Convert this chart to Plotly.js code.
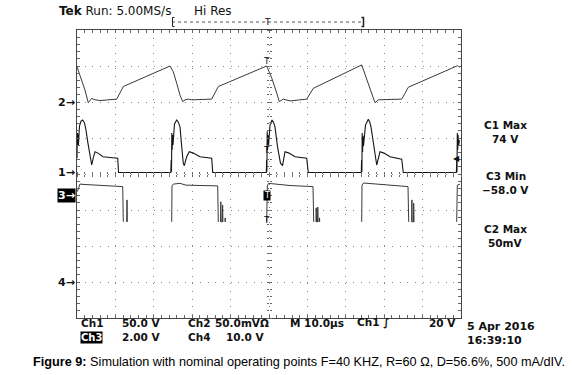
<!DOCTYPE html>
<html><head><meta charset="utf-8">
<script src="https://cdn.plot.ly/plotly-3.0.1.min.js"></script>
<style>html,body{margin:0;padding:0;background:#fff;}#chart{width:572px;height:375px;}</style>
</head><body><div id="chart"></div>
<script>
// time in microseconds (10 us/div), amplitude in screen divisions
const ch1Time = [0,0.08,0.16,0.26,0.36,0.65,1.04,1.48,1.95,2.34,2.86,3.39,3.83,4.17,4.69,5.47,6.77,8.59,10.6,10.81,16.41,24.43,
  24.53,24.61,24.69,24.79,24.9,25.0,25.39,25.96,26.38,26.82,27.27,27.68,27.94,28.57,29.24,30.29,32.03,35.08,35.34,42.45,49.3,
  49.38,49.45,49.53,49.64,49.74,49.87,50.26,50.78,51.17,51.56,52.21,52.99,53.52,54.17,55.21,56.77,59.82,60.23,67.19,74.04,
  74.11,74.19,74.27,74.38,74.48,74.61,75.13,75.86,76.25,76.56,77.34,77.86,78.05,78.91,79.95,81.51,84.56,84.97,91.93,98.8,
  98.88,98.96,99.04,99.14,99.24,99.38,99.6];
const ch1Div = [0.44,1.14,0.61,1.08,0.78,1.33,1.47,1.50,1.42,1.22,0.85,0.44,0.25,0.42,0.62,0.58,0.48,0.46,0.44,0.04,0.04,0.04,
  0.39,0.06,1.14,0.67,1.08,0.81,1.39,1.50,1.44,1.31,0.76,0.30,0.23,0.48,0.62,0.58,0.48,0.44,0.04,0.04,0.04,
  0.39,0.06,1.19,0.67,1.08,0.78,1.36,1.50,1.44,1.31,0.76,0.30,0.23,0.62,0.58,0.48,0.44,0.04,0.04,0.04,
  0.39,0.06,1.14,0.61,1.06,0.78,1.36,1.52,1.44,1.31,0.76,0.31,0.25,0.62,0.58,0.48,0.41,0.04,0.04,0.04,
  0.39,0.06,1.14,0.67,1.08,0.78,0.94];

const ch2Time = [0,0.78,2.08,2.94,3.83,4.69,5.99,10.34,12.06,24.22,25.08,25.96,26.82,27.53,28.13,28.98,29.87,35.08,36.8,
  49.4,50.7,52.01,52.68,53.72,55.47,59.82,60.68,61.54,74.14,75.6,76.74,77.6,78.46,79.77,84.56,85.42,86.28,99.14,99.6];
const ch2Div = [2.98,2.75,2.33,1.98,2.10,2.06,2.04,2.08,2.43,3.00,2.84,2.52,2.19,2.01,2.06,2.08,2.06,2.08,2.43,
  3.00,2.67,2.25,2.01,2.08,2.03,2.08,2.25,2.38,3.03,2.61,2.24,1.98,2.06,2.06,2.08,2.24,2.41,3.01,2.96];

const ch3Time = [0.08,0.52,0.78,1.82,4.69,8.59,11.9,12.06,null,12.94,13.02,13.1,null,
  24.66,24.74,25.08,26.82,28.39,32.03,36.64,36.8,null,37.37,37.45,37.55,37.84,37.92,38.0,null,38.54,38.6,38.65,null,
  49.4,49.56,49.87,51.56,55.47,61.46,61.64,null,62.24,62.29,62.37,62.63,62.71,62.79,null,63.1,63.15,63.2,null,
  74.14,74.22,74.61,77.6,81.51,86.2,86.38,null,87.16,87.21,87.29,87.63,87.68,87.76,null,
  98.88,99.04,99.74];
const ch3Div = [-0.49,-0.31,-0.28,-0.29,-0.31,-0.32,-0.35,-1.33,null,-1.33,-0.72,-1.33,null,
  -1.33,-0.33,-0.28,-0.26,-0.31,-0.32,-0.33,-1.33,null,-1.33,-0.77,-1.33,-1.33,-0.86,-1.33,null,-1.33,-1.22,-1.33,null,
  -1.33,-0.33,-0.26,-0.28,-0.32,-0.35,-1.33,null,-1.33,-0.94,-1.33,-1.33,-0.92,-1.33,null,-1.33,-1.22,-1.33,null,
  -1.33,-0.31,-0.25,-0.28,-0.31,-0.35,-1.33,null,-1.33,-0.72,-1.33,-1.33,-0.81,-1.33,null,
  -1.33,-0.31,-0.28];

const channelMarkers = ['1','2','3','4'];
const markerLevels = [0.05, 2.0, -0.6, -3.0];

// layout helpers: pixel -> paper
const L = 77, T = 30, W = 384, H = 288;
const px = v => (v - L) / W;
const py = v => (T + H - v) / H;
const tek = "DejaVu Sans, Verdana, sans-serif";

const traces = [
  {x: ch2Time, y: ch2Div, mode: 'lines', line: {color: '#3a3a3a', width: 1}, hoverinfo: 'skip'},
  {x: ch1Time, y: ch1Div, mode: 'lines', line: {color: '#151515', width: 1.1}, hoverinfo: 'skip'},
  {x: ch3Time, y: ch3Div, mode: 'lines', line: {color: '#3a3a3a', width: 1}, hoverinfo: 'skip', connectgaps: false},
  {x: [], y: [], xaxis: 'x2', yaxis: 'y2', hoverinfo: 'skip'},
  {x: [], y: [], xaxis: 'x3', yaxis: 'y3', hoverinfo: 'skip'}
];

const ann = [];
function A(text, x, y, xanchor, size, opts, yanchor) {
  ann.push(Object.assign({text: text, xref: 'paper', yref: 'paper', x: px(x), y: py(y), xanchor: xanchor, yanchor: yanchor || 'middle',
    showarrow: false, borderpad: 0, font: {family: tek, size: size, color: '#111'}}, opts || {}));
}
const inv = s => ({bgcolor: '#000', font: {family: tek, size: s, color: '#fff'}});
// header
A('<b>Tek</b> Run: 5.00MS/s', 58, 11, 'left', 12);
A('Hi Res', 193, 11, 'left', 12);
A('T', 267, 22, 'center', 9);
// channel markers on the left
channelMarkers.forEach((m, i) => {
  const yy = T + H / 2 - markerLevels[i] * 36;
  if (m === '3') {
    A('<b>3→</b>', 76, yy, 'right', 11, inv(11));
  } else {
    A('<b>' + m + '→</b>', 76, yy, 'right', 11);
  }
});
// trigger markers
A('T', 266.5, 61, 'center', 9);
A('T', 266.5, 150, 'center', 9);
A('T', 266.5, 195, 'center', 8, inv(8));
A('T', 266.5, 220, 'center', 9);
A('◀', 461, 158, 'right', 8);
// right readouts (two-line groups split at their midline)
A('<b>C1 Max</b>', 505.5, 131.5, 'center', 10.5, null, 'bottom');
A('<b>74 V</b>', 505.5, 131.5, 'center', 10.5, null, 'top');
A('<b>C3 Min</b>', 505.5, 182.5, 'center', 10.5, null, 'bottom');
A('<b>−58.0 V</b>', 505.5, 182.5, 'center', 10.5, null, 'top');
A('<b>C2 Max</b>', 505.5, 236, 'center', 10.5, null, 'bottom');
A('<b>50mV</b>', 505.5, 236, 'center', 10.5, null, 'top');
// bottom readouts
const r1 = 330, fs = 10.5;
A('<b>Ch1</b>', 80, r1, 'left', fs, null, 'bottom');
A('<b>50.0 V</b>', 121, r1, 'left', fs, null, 'bottom');
A('<b>Ch2</b>', 187, r1, 'left', fs, null, 'bottom');
A('<b>50.0mVΩ</b>', 214, r1, 'left', fs, null, 'bottom');
A('<b>M 10.0µs</b>', 289, r1, 'left', fs, null, 'bottom');
A('<b>Ch1 ∫</b>', 356, r1, 'left', fs, null, 'bottom');
A('<b>20 V</b>', 457, r1, 'right', fs, null, 'bottom');
A('<b>Ch3</b>', 80, r1 + 0.5, 'left', 10, inv(10), 'top');
A('<b>2.00 V</b>', 121, r1, 'left', fs, null, 'top');
A('<b>Ch4</b>', 187, r1, 'left', fs, null, 'top');
A('<b>10.0 V</b>', 266, r1, 'right', fs, null, 'top');
A('<b>5 Apr 2016</b>', 466, 326, 'left', 11);
A('<b>16:39:10</b>', 466, 340, 'left', 11);
// caption
A('<b>Figure 9:</b> Simulation with nominal operating points F=40 KHZ, R=60 Ω, D=56.6%, 500 mA/dIV.', 32, 362, 'left', 12.7,
  {font: {family: 'Liberation Sans, Arial, sans-serif', size: 12.7, color: '#000'}});

const shapes = [
  {type: 'line', xref: 'paper', yref: 'paper', x0: px(172), x1: px(364), y0: py(22), y1: py(22), line: {color: '#555', width: 1, dash: 'dot'}},
  {type: 'path', xref: 'paper', yref: 'paper', path: `M ${px(174.5)} ${py(17.5)} L ${px(172.5)} ${py(17.5)} L ${px(172.5)} ${py(26.5)} L ${px(174.5)} ${py(26.5)}`, line: {color: '#222', width: 1}},
  {type: 'path', xref: 'paper', yref: 'paper', path: `M ${px(361.5)} ${py(17.5)} L ${px(363.5)} ${py(17.5)} L ${px(363.5)} ${py(26.5)} L ${px(361.5)} ${py(26.5)}`, line: {color: '#222', width: 1.5}}
];

const gridDash = '1px,6.68px';
const layout = {
  width: 572, height: 375,
  margin: {l: L, r: 572 - L - W, t: T, b: 375 - T - H, pad: 0},
  paper_bgcolor: '#fff', plot_bgcolor: '#fff',
  showlegend: false,
  xaxis: {range: [0, 100], dtick: 10, tick0: 0, showgrid: true, gridcolor: '#8a8a8a', griddash: gridDash, gridwidth: 1,
    zeroline: false, showline: true, linecolor: '#444', linewidth: 1, mirror: 'allticks',
    ticks: 'inside', ticklen: 3, tickcolor: '#666', showticklabels: false, fixedrange: true,
    minor: {dtick: 2, tick0: 0, ticks: 'inside', ticklen: 3, tickcolor: '#666', showgrid: false}},
  yaxis: {range: [-4, 4], dtick: 1, tick0: 0, showgrid: true, gridcolor: '#8a8a8a', griddash: gridDash, gridwidth: 1,
    zeroline: false, showline: true, linecolor: '#444', linewidth: 1, mirror: 'allticks',
    ticks: 'inside', ticklen: 3, tickcolor: '#666', showticklabels: false, fixedrange: true,
    minor: {dtick: 0.2, tick0: 0, ticks: 'inside', ticklen: 3, tickcolor: '#666', showgrid: false}},
  xaxis2: {overlaying: 'x', anchor: 'free', position: 0.5, side: 'bottom', range: [0, 100], dtick: 2, tick0: 0,
    ticks: 'outside', ticklen: 2, tickcolor: '#666', showticklabels: false, showgrid: false, showline: false, zeroline: false},
  xaxis3: {overlaying: 'x', anchor: 'free', position: 0.5, side: 'top', range: [0, 100], dtick: 2, tick0: 0,
    ticks: 'outside', ticklen: 2, tickcolor: '#666', showticklabels: false, showgrid: false, showline: false, zeroline: false},
  yaxis2: {overlaying: 'y', anchor: 'free', position: 0.5, side: 'left', range: [-4, 4], dtick: 0.2, tick0: 0,
    ticks: 'outside', ticklen: 2, tickcolor: '#666', showticklabels: false, showgrid: false, showline: false, zeroline: false},
  yaxis3: {overlaying: 'y', anchor: 'free', position: 0.5, side: 'right', range: [-4, 4], dtick: 0.2, tick0: 0,
    ticks: 'outside', ticklen: 2, tickcolor: '#666', showticklabels: false, showgrid: false, showline: false, zeroline: false},
  annotations: ann,
  shapes: shapes
};
Plotly.newPlot('chart', traces, layout, {displayModeBar: false, staticPlot: true});
</script></body></html>
